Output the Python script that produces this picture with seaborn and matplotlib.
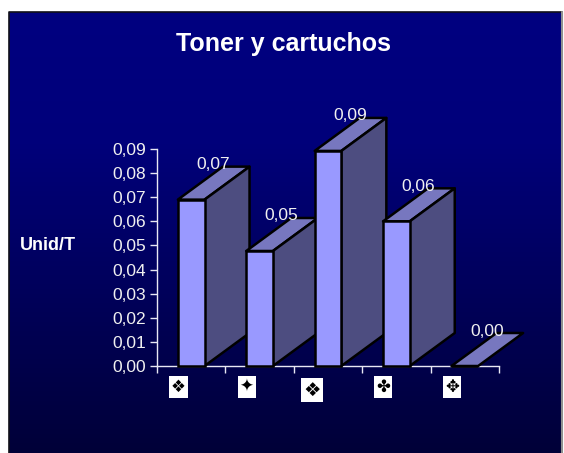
import numpy as np
import pandas as pd
import matplotlib
matplotlib.use("Agg")
import matplotlib.pyplot as plt
from matplotlib.patches import Polygon
import seaborn as sns

categories = ["\u2756", "\u2726", "\u2756", "\u2724", "\u2725"]
values = [0.069, 0.0477, 0.0892, 0.060, 0.0]
value_labels = ["0,07", "0,05", "0,09", "0,06", "0,00"]
y_ticks = [0.00, 0.01, 0.02, 0.03, 0.04, 0.05, 0.06, 0.07, 0.08, 0.09]
y_tick_labels = ["0,00", "0,01", "0,02", "0,03", "0,04", "0,05", "0,06", "0,07", "0,08", "0,09"]
title = "Toner y cartuchos"
y_title = "Unid/T"

W, H = 564, 453
sns.set_theme(style="white")
plt.rcParams["font.family"] = ["Liberation Sans", "DejaVu Sans"]

fig = plt.figure(figsize=(W / 100, H / 100), dpi=100, facecolor="white")

def box(l, t, r, b):
    return [l / W, 1 - b / H, (r - l) / W, (b - t) / H]

# gradient panel
bg = fig.add_axes(box(9, 12, 562, 453), zorder=0)
bg.axis("off")
grad = np.linspace(0, 1, 256)[:, None]
rgb = np.zeros((256, 1, 3))
rgb[..., 2] = np.interp(grad, [0, 0.3, 1], [128, 122, 56]) / 255
bg.imshow(rgb, aspect="auto", extent=[0, 1, 0, 1])
bg.plot([0, 0, 1], [0, 1, 1], color="#101018", lw=1.2, clip_on=False)
bg.plot([1, 1], [0, 1], color="#909090", lw=1.5, clip_on=False)

ax = fig.add_axes(box(157, 149, 499, 366), zorder=1)
ax.patch.set_alpha(0)
df = pd.DataFrame({"cat": [f"c{i}" for i in range(len(values))], "val": values})
sns.barplot(data=df, x="cat", y="val", ax=ax, color="#9999FF", width=0.39,
            saturation=1, edgecolor="black", linewidth=1.8)
ax.set_xlim(-0.5, len(values) - 0.5)
ax.set_ylim(0, 0.09)
ax.set_xlabel("")
ax.set_ylabel("")

# extrusion depth expressed in data units
dx = 45 / 68.4
dy = 33 / (217 / 0.09)
for i, (p, v) in enumerate(zip(ax.patches, values)):
    z = 3 + i * 2
    p.set_zorder(z + 1)
    p.set_clip_on(False)
    x0, x1 = p.get_x(), p.get_x() + p.get_width()
    top = Polygon([(x0, v), (x0 + dx, v + dy), (x1 + dx, v + dy), (x1, v)], closed=True,
                  facecolor="#7777BF", edgecolor="black", lw=1.8, zorder=z, clip_on=False,
                  joinstyle="round")
    ax.add_patch(top)
    if v > 0:
        side = Polygon([(x1, 0), (x1 + dx, dy), (x1 + dx, v + dy), (x1, v)], closed=True,
                       facecolor="#4D4D80", edgecolor="black", lw=1.8, zorder=z, clip_on=False,
                       joinstyle="round")
        ax.add_patch(side)
    ax.annotate(value_labels[i], (i, v), xytext=(22, 35), textcoords="offset pixels",
                color="#F0F0F0", fontsize=12.5, ha="center", va="center", zorder=30,
                annotation_clip=False)
    ax.annotate(categories[i], (i, 0), xytext=(-13 if i != 2 else -16, -21 - (3 if i == 2 else 0)),
                textcoords="offset pixels", color="black",
                fontsize=12 if i != 2 else 14, ha="center", va="center", zorder=30,
                family=["DejaVu Sans"], annotation_clip=False,
                bbox=dict(boxstyle="square,pad=0.12", fc="white", ec="none"))

for s in ["top", "right"]:
    ax.spines[s].set_visible(False)
for s in ["left", "bottom"]:
    ax.spines[s].set_color("#E8E8F4")
    ax.spines[s].set_linewidth(1.0)
ax.set_xticks(np.arange(-0.5, len(values), 1))
ax.set_xticklabels([])
ax.set_yticks(y_ticks)
ax.set_yticklabels(y_tick_labels)
ax.tick_params(axis="both", colors="#E8E8F4", length=5, width=1.0, left=True, bottom=True,
               labelsize=12.5, pad=3, labelcolor="#F0F0F0")

fig.text(283 / W, 1 - 44.5 / H, title, color="white", fontsize=18,
         fontweight="bold", ha="center", va="center")
fig.text(47.5 / W, 1 - 245 / H, y_title, color="white", fontsize=13,
         fontweight="bold", ha="center", va="center")

fig.savefig("out.png", dpi=100, facecolor="white")
